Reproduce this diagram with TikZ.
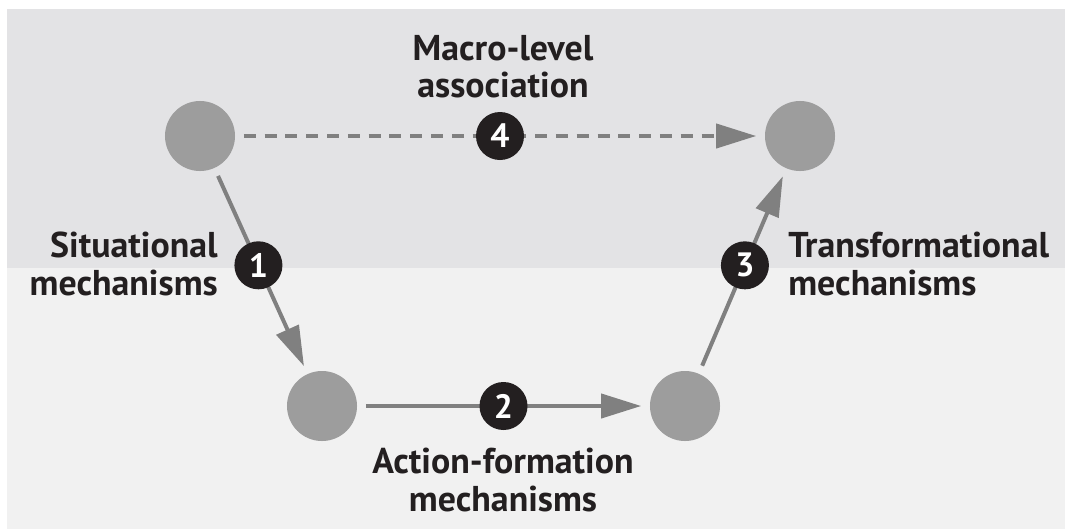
\documentclass[tikz,border=0pt]{standalone}
\usepackage{fontspec}
\setmainfont{PT Sans}
\usetikzlibrary{arrows.meta}
\definecolor{bandtop}{HTML}{E3E3E5}
\definecolor{bandlow}{HTML}{F1F1F1}
\definecolor{dotgray}{HTML}{9D9D9D}
\definecolor{linkgray}{HTML}{808080}
\definecolor{inkdark}{HTML}{231F20}
\begin{document}
\begin{tikzpicture}[x=0.025cm,y=-0.025cm,
  level/.style={circle,fill=dotgray,minimum size=1.75cm,inner sep=0pt,outer sep=0.22cm},
  link/.style={draw=linkgray,line width=0.1cm,-{Triangle[length=1cm,width=0.6cm]}},
  badge/.style={circle,fill=inkdark,text=white,minimum size=1.2cm,inner sep=0pt,
    font=\fontsize{24pt}{24pt}\bfseries},
  caption/.style={inner sep=0pt,text=inkdark,font=\fontsize{25.5pt}{26.5pt}\bfseries}]
 \useasboundingbox (0,0) rectangle (1065,529);
 \fill[white] (0,0) rectangle (1065,529);
 \fill[bandtop] (7,9) rectangle (1065,268);
 \fill[bandlow] (7,268) rectangle (1065,529);
 \node[level] (macroA) at (200,136) {};
 \node[level] (macroB) at (800,136) {};
 \node[level] (microA) at (322,406) {};
 \node[level] (microB) at (685,406) {};
 \draw[link,dash pattern=on 0.3cm off 0.22cm] (macroA) -- (macroB)
   node[badge,midway] (b4) {4};
 \draw[link] (macroA) -- (microA) node[badge,pos=0.47] (b1) {1};
 \draw[link] (microA) -- (microB) node[badge,pos=0.5] (b2) {2};
 \draw[link] (microB) -- (macroB) node[badge,pos=0.53] (b3) {3};
 \node[caption,align=center] (macroTxt) at (503,67) {Macro-level\\association};
 \node[caption,align=right,anchor=east] (sitTxt) at (218,264) {Situational\\mechanisms};
 \node[caption,align=left,anchor=west] (trTxt) at (788,264) {Transformational\\mechanisms};
 \node[caption,align=center] (actTxt) at (503,480) {Action-formation\\mechanisms};
\end{tikzpicture}
\end{document}
